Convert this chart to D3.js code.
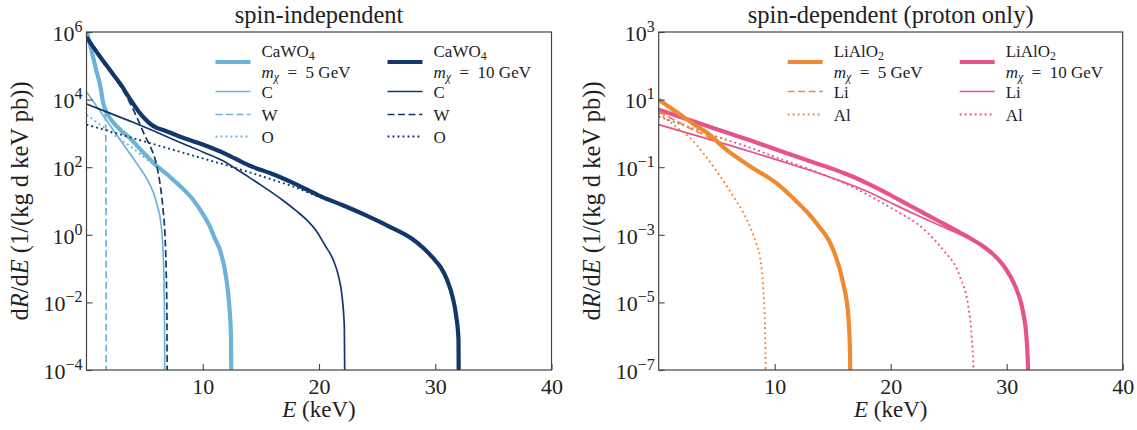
<!DOCTYPE html>
<html>
<head>
<meta charset="utf-8">
<script src="https://d3js.org/d3.v7.min.js"></script>
<style>
  body { margin: 0; background: #fff; }
</style>
</head>
<body>
<div id="container"></div>
<script>
/* CONSTANTS AND GLOBALS */
const width = 1137,
    height = 430
const serif = "'Liberation Serif', 'DejaVu Serif', 'Times New Roman', serif"

// TICKS
const energyTicks = [10, 20, 30, 40]
const siTicks = [1e-4, 1e-2, 1e0, 1e2, 1e4, 1e6]
const sdTicks = [1e-7, 1e-5, 1e-3, 1e-1, 1e1, 1e3]

// DATA: [E in keV, dR/dE]
// spin-independent, CaWO4, m = 5 GeV
const caWO4_5 = [[0, 1.12e6], [0.4, 3.16e5], [0.8, 8.3e4], [1.2, 2.4e4], [1.45, 7.6e3], [1.6, 5.25e3],
    [1.75, 3.98e3], [2, 2.88e3], [3, 1.2e3], [3.74, 7.24e2], [4.5, 3.8e2], [5.18, 2.14e2], [6, 1.12e2],
    [7, 58.9], [7.47, 41.7], [8, 28.8], [9.19, 10.7], [10, 4.17], [10.62, 1.74], [11, 0.83], [11.48, 0.355],
    [12, 0.0575], [12.29, 7.4e-3], [12.43, 9.8e-4], [12.49, 1e-6]]
const ca_5 = [[0, 1.7e4], [1, 5.5e3], [2, 1.78e3], [3, 575], [4, 186], [4.6, 93], [5.2, 44.7], [5.75, 17.8],
    [6.1, 7.1], [6.32, 3.47], [6.5, 1.0], [6.6, 0.25], [6.68, 0.025], [6.72, 1e-3], [6.74, 1e-6]]
const w_5 = [[0, 1e6], [0.4, 2.63e5], [0.8, 7.1e4], [1.2, 1.9e4], [1.45, 7.9e3], [1.58, 4.17e3],
    [1.64, 2e3], [1.67, 200], [1.685, 1], [1.69, 1e-6]]
const o_5 = [[0, 3.55e3], [1, 2.0e3], [2, 1.12e3], [3, 631], [4, 363], [5, 191], [6, 105], [7, 57.5],
    [8, 28.8], [9.19, 10.7], [10, 4.17], [10.62, 1.74], [11, 0.83], [11.48, 0.355], [12, 0.0575],
    [12.29, 7.4e-3], [12.43, 9.8e-4], [12.49, 1e-6]]

// spin-independent, CaWO4, m = 10 GeV
const caWO4_10 = [[0, 7.08e5], [1, 2.24e5], [2, 7.59e4], [3, 2.63e4], [3.74, 1.05e4], [4.5, 4.37e3],
    [5, 2.75e3], [5.5, 1.9e3], [6, 1.48e3], [6.6, 1.26e3], [8, 813], [10, 468], [12, 245], [14, 112],
    [16, 63], [18, 31.6], [20, 14.5], [22, 7.59], [24, 3.8], [26, 1.78], [28, 0.76], [29, 0.4], [30, 0.174],
    [30.5, 0.105], [31, 0.048], [31.5, 0.0141], [31.8, 3.98e-3], [32, 7.9e-4], [32.05, 1e-6]]
const ca_10 = [[0, 7.4e3], [2, 3.98e3], [4, 2.14e3], [6, 1.1e3], [8, 550], [10, 282], [12, 138], [13, 83],
    [14, 50], [15, 29.5], [16, 17.4], [17, 9.8], [18, 5.25], [19, 2.63], [19.8, 1.26], [20.5, 0.5],
    [21.23, 0.178], [21.7, 0.056], [21.95, 0.0186], [22.18, 1.9e-3], [22.26, 1e-6]]
const w_10 = [[0, 6.3e5], [1, 2.09e5], [2, 7.08e4], [3, 2.24e4], [3.74, 7.9e3], [4.5, 2.24e3], [5, 891],
    [5.5, 398], [5.75, 251], [6, 126], [6.35, 28.2], [6.6, 5.0], [6.75, 1], [6.85, 0.1], [6.92, 3.2e-3],
    [6.95, 1e-6]]
const o_10 = [[0, 1.82e3], [2, 1.15e3], [4, 724], [6, 457], [8, 288], [10, 182], [12, 115], [14, 70.8],
    [16, 42.7], [18, 25.1], [20, 13.2], [22, 7.4], [24, 3.8], [26, 1.78], [28, 0.76], [29, 0.4], [30, 0.174],
    [30.5, 0.105], [31, 0.048], [31.5, 0.0141], [31.8, 3.98e-3], [32, 7.9e-4], [32.05, 1e-6]]

// spin-dependent (proton only), LiAlO2, m = 5 GeV
const liAlO2_5 = [[0, 10.0], [1, 5.75], [2, 3.31], [3, 1.91], [4.43, 0.89], [5.86, 0.324], [8, 0.1],
    [10.17, 0.0331], [11.6, 0.012], [13.6, 2.19e-3], [15.05, 3.55e-4], [15.9, 3.7e-5], [16.35, 3.8e-6],
    [16.5, 2.5e-7], [16.55, 1e-9]]
const li_5 = [[0, 4.27], [1, 2.88], [2, 1.91], [3, 1.26], [4.43, 0.724], [5.86, 0.309], [8, 0.0955],
    [10.17, 0.0331], [11.6, 0.012], [13.6, 2.19e-3], [15.05, 3.55e-4], [15.9, 3.7e-5], [16.35, 3.8e-6],
    [16.5, 2.5e-7], [16.55, 1e-9]]
const al_5 = [[0, 3.98], [1, 2.14], [2, 1.15], [2.7, 0.741], [3.85, 0.257], [5, 0.0759], [6.43, 0.0138],
    [7.3, 4.47e-3], [7.87, 1.74e-3], [8.4, 5.6e-4], [8.73, 2.24e-4], [9.02, 2.34e-5], [9.16, 2.4e-6],
    [9.22, 3.2e-8], [9.24, 1e-9]]

// spin-dependent (proton only), LiAlO2, m = 10 GeV
const liAlO2_10 = [[0, 5.01], [2, 2.95], [4, 1.74], [6, 1.02], [8, 0.603], [10, 0.347], [12, 0.2],
    [14, 0.117], [15, 0.0891], [16, 0.0661], [17, 0.0479], [18, 0.0331], [19, 0.0224], [20, 0.0148],
    [22, 6.31e-3], [24, 2.69e-3], [26, 1.15e-3], [27, 7.4e-4], [28, 4.5e-4], [29, 2.34e-4], [29.7, 1.26e-4],
    [30.3, 6.0e-5], [30.86, 2.34e-5], [31.43, 4.8e-6], [31.72, 7.8e-7], [31.86, 6.3e-8], [31.9, 1e-9]]
const li_10 = [[0, 1.82], [2, 1.15], [4, 0.724], [6, 0.457], [8, 0.282], [10, 0.174], [12, 0.105],
    [14, 0.0631], [16, 0.0355], [18, 0.0191], [20, 8.9e-3], [22, 4.17e-3], [24, 2.04e-3], [26, 1.02e-3],
    [27, 7.24e-4], [28, 4.37e-4], [29, 2.29e-4], [29.7, 1.23e-4], [30.3, 5.9e-5], [30.86, 2.29e-5],
    [31.43, 4.7e-6], [31.72, 7.6e-7], [31.86, 6.3e-8], [31.9, 1e-9]]
const al_10 = [[0, 3.16], [2, 1.82], [4.7, 0.87], [7.87, 0.38], [9.88, 0.209], [13.3, 0.0794],
    [16.5, 0.0282], [19.36, 8.5e-3], [20.8, 4.37e-3], [22.24, 2.19e-3], [23.5, 8.9e-4], [24.53, 3.55e-4],
    [25.97, 5.75e-5], [26.69, 7.4e-6], [26.98, 9.8e-7], [27.15, 6.3e-8], [27.2, 1e-9]]

// STYLES
const lightBlue = "#6db3d8",
    navy = "#12376a",
    orange = "#ef8a32",
    pink = "#e6538b"
const thick = { width: 4.2, dash: null },
    solid = { width: 1.7, dash: null },
    dashed = { width: 1.7, dash: "7,3.5" },
    dotted = { width: 1.9, dash: "1.9,3.1" }

const mass5 = [["m", "it"], ["χ", "itsub"], ["\u2002=\u20025 GeV"]],
    mass10 = [["m", "it"], ["χ", "itsub"], ["\u2002=\u200210 GeV"]]

const panels = [{
    id: "si",
    x0: 86.5,
    x1: 551.5,
    title: "spin-independent",
    yDomain: [1e-4, 1e6],
    yTicks: siTicks,
    series: [
        [caWO4_5, lightBlue, thick], [ca_5, lightBlue, solid], [w_5, lightBlue, dashed], [o_5, lightBlue, dotted],
        [caWO4_10, navy, thick], [ca_10, navy, solid], [w_10, navy, dashed], [o_10, navy, dotted]
    ],
    legend: [
        [[lightBlue, thick, [["CaWO"], ["4", "sub"]], mass5],
         [lightBlue, solid, [["C"]]], [lightBlue, dashed, [["W"]]], [lightBlue, dotted, [["O"]]]],
        [[navy, thick, [["CaWO"], ["4", "sub"]], mass10],
         [navy, solid, [["C"]]], [navy, dashed, [["W"]]], [navy, dotted, [["O"]]]]
    ]
}, {
    id: "sd",
    x0: 658.7,
    x1: 1122.7,
    title: "spin-dependent (proton only)",
    yDomain: [1e-7, 1e3],
    yTicks: sdTicks,
    series: [
        [liAlO2_10, pink, thick], [li_10, pink, solid], [al_10, pink, dotted],
        [liAlO2_5, orange, thick], [li_5, orange, dashed], [al_5, orange, dotted]
    ],
    legend: [
        [[orange, thick, [["LiAlO"], ["2", "sub"]], mass5],
         [orange, dashed, [["Li"]]], [orange, dotted, [["Al"]]]],
        [[pink, thick, [["LiAlO"], ["2", "sub"]], mass10],
         [pink, solid, [["Li"]]], [pink, dotted, [["Al"]]]]
    ]
}]

const plotTop = 32,
    plotBottom = 370,
    legendRows = [62, 91.5, 114.5, 136.5]

//SVG
const svg = d3.select("#container")
    .append("svg")
    .attr("width", width)
    .attr("height", height)
    .attr("font-family", serif)

// writes rich text (italic / sub) into a text element
function richText(sel, parts, size) {
    let shift = 0
    parts.forEach(([t, kind]) => {
        const ts = sel.append("tspan").text(t)
        const want = kind && kind.includes("sub") ? size * 0.2 : 0
        if (want !== shift) { ts.attr("dy", want - shift); shift = want }
        if (kind && kind.includes("sub")) ts.style("font-size", (size * 0.7) + "px")
        if (kind && kind.includes("it")) ts.style("font-style", "italic")
    })
}

panels.forEach(p => {
    //SCALE
    const xScale = d3.scaleLinear().domain([0, 40]).range([p.x0, p.x1])
    const yScale = d3.scaleLog().domain(p.yDomain).range([plotBottom, plotTop])

    const g = svg.append("g").attr("class", p.id)

    g.append("clipPath").attr("id", "clip-" + p.id)
        .append("rect")
        .attr("x", p.x0).attr("y", plotTop)
        .attr("width", p.x1 - p.x0).attr("height", plotBottom - plotTop)

    const line = d3.line()
        .x(d => xScale(d[0]))
        .y(d => yScale(d[1]))
        .curve(d3.curveMonotoneX)

    // CURVES
    g.append("g")
        .attr("clip-path", "url(#clip-" + p.id + ")")
        .selectAll("path")
        .data(p.series)
        .join("path")
        .attr("d", d => line(d[0]))
        .attr("fill", "none")
        .attr("stroke", d => d[1])
        .attr("stroke-width", d => d[2].width)
        .attr("stroke-dasharray", d => d[2].dash)

    // AXES
    const xAxis = d3.axisBottom(xScale).tickValues(energyTicks).tickSize(-6).tickPadding(8).tickFormat(d3.format("d"))
    const yAxis = d3.axisLeft(yScale).tickValues(p.yTicks).tickSize(-6).tickPadding(4)

    const gx = g.append("g")
        .attr("transform", "translate(0," + plotBottom + ")")
        .call(xAxis)
    const gy = g.append("g")
        .attr("transform", "translate(" + p.x0 + ",0)")
        .call(yAxis)

    ;[gx, gy].forEach(a => {
        a.attr("font-family", null)
        a.select(".domain").remove()
        a.selectAll(".tick line").attr("stroke", "#444").attr("stroke-width", 1.1)
        a.selectAll("text").style("font-size", "22px").attr("fill", "#222")
    })

    gy.selectAll(".tick text")
        .attr("dy", "0.38em")
        .each(function (d) {
            const e = Math.round(Math.log10(d))
            const t = d3.select(this).text(null)
            t.append("tspan").text("10")
            t.append("tspan").attr("dy", -9).style("font-size", "16px").text(e < 0 ? "\u2212" + (-e) : e)
        })

    // FRAME
    g.append("rect")
        .attr("x", p.x0).attr("y", plotTop)
        .attr("width", p.x1 - p.x0).attr("height", plotBottom - plotTop)
        .attr("fill", "none")
        .attr("stroke", "#444")
        .attr("stroke-width", 1.2)

    // LEGEND
    p.legend.forEach((col, ci) => {
        const sx = p.x0 + (ci === 0 ? 129 : 301)
        col.forEach(([color, style, line1, line2], ri) => {
            const y = legendRows[ri]
            g.append("line")
                .attr("x1", sx).attr("x2", sx + 35)
                .attr("y1", y).attr("y2", y)
                .attr("stroke", color)
                .attr("stroke-width", style.width)
                .attr("stroke-dasharray", style.dash)
            const t1 = g.append("text")
                .attr("x", sx + 46)
                .attr("y", line2 ? y - 5.5 : y + 6)
                .style("font-size", "17px")
            richText(t1, line1, 17)
            if (line2) {
                const t2 = g.append("text")
                    .attr("x", sx + 46)
                    .attr("y", y + 16)
                    .style("font-size", "17px")
                richText(t2, line2, 17)
            }
        })
    })

    // LABELS
    const cx = (p.x0 + p.x1) / 2
    g.append("text")
        .attr("x", cx).attr("y", 23)
        .attr("text-anchor", "middle")
        .style("font-size", "24.5px")
        .text(p.title)

    const xl = g.append("text")
        .attr("x", cx).attr("y", 417)
        .attr("text-anchor", "middle")
        .style("font-size", "23px")
    richText(xl, [["E", "it"], [" (keV)"]], 23)

    const yl = g.append("text")
        .attr("transform", "translate(" + (p.x0 - 59) + "," + ((plotTop + plotBottom) / 2) + ") rotate(-90)")
        .attr("text-anchor", "middle")
        .style("font-size", "24.5px")
    richText(yl, [["d"], ["R", "it"], ["/d"], ["E", "it"], [" (1/(kg d keV pb))"]], 24.5)
})

// every text in the same serif face
svg.selectAll("text").style("font-family", serif).attr("fill", "#222")
</script>
</body>
</html>
